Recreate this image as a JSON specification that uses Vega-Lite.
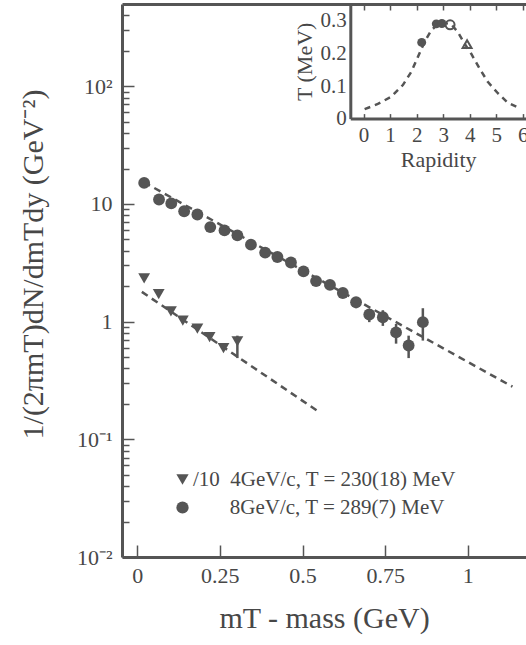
{
  "$schema": "https://vega.github.io/schema/vega-lite/v6.json",
  "autosize": {"type": "none"},
  "padding": {"left": 122, "top": 4, "right": 0, "bottom": 88},
  "width": 404,
  "height": 553,
  "background": "white",
  "config": {
    "view": {"stroke": null},
    "font": "Liberation Serif",
    "axis": {
      "labelFont": "Liberation Serif",
      "titleFont": "Liberation Serif",
      "labelColor": "#474747",
      "titleColor": "#474747",
      "domainColor": "#555555",
      "tickColor": "#555555",
      "grid": false,
      "titleFontWeight": "normal",
      "labelFlush": false,
      "labelOverlap": false
    }
  },
  "datasets": {
    "spectra": [
      {"series": "8GeV/c", "mt": 0.021, "val": 15.1},
      {"series": "8GeV/c", "mt": 0.066, "val": 10.9},
      {"series": "8GeV/c", "mt": 0.103, "val": 10.1},
      {"series": "8GeV/c", "mt": 0.142, "val": 8.67},
      {"series": "8GeV/c", "mt": 0.182, "val": 8.13},
      {"series": "8GeV/c", "mt": 0.221, "val": 6.36},
      {"series": "8GeV/c", "mt": 0.264, "val": 5.96},
      {"series": "8GeV/c", "mt": 0.303, "val": 5.41},
      {"series": "8GeV/c", "mt": 0.344, "val": 4.51},
      {"series": "8GeV/c", "mt": 0.387, "val": 3.86},
      {"series": "8GeV/c", "mt": 0.424, "val": 3.54},
      {"series": "8GeV/c", "mt": 0.465, "val": 3.18},
      {"series": "8GeV/c", "mt": 0.503, "val": 2.67},
      {"series": "8GeV/c", "mt": 0.541, "val": 2.21},
      {"series": "8GeV/c", "mt": 0.583, "val": 2.05},
      {"series": "8GeV/c", "mt": 0.622, "val": 1.75},
      {"series": "8GeV/c", "mt": 0.662, "val": 1.46},
      {"series": "8GeV/c", "mt": 0.702, "val": 1.15},
      {"series": "8GeV/c", "mt": 0.743, "val": 1.09},
      {"series": "8GeV/c", "mt": 0.783, "val": 0.81},
      {"series": "8GeV/c", "mt": 0.821, "val": 0.627},
      {"series": "8GeV/c", "mt": 0.864, "val": 0.99},
      {"series": "4GeV/c", "mt": 0.021, "val": 2.33},
      {"series": "4GeV/c", "mt": 0.065, "val": 1.71},
      {"series": "4GeV/c", "mt": 0.102, "val": 1.22},
      {"series": "4GeV/c", "mt": 0.138, "val": 1.02},
      {"series": "4GeV/c", "mt": 0.182, "val": 0.87},
      {"series": "4GeV/c", "mt": 0.219, "val": 0.74},
      {"series": "4GeV/c", "mt": 0.261, "val": 0.596},
      {"series": "4GeV/c", "mt": 0.303, "val": 0.68}
    ],
    "errs": [
      {"series": "8GeV/c", "mt": 0.622, "lo": 1.61, "hi": 1.89},
      {"series": "8GeV/c", "mt": 0.662, "lo": 1.30, "hi": 1.61},
      {"series": "8GeV/c", "mt": 0.702, "lo": 0.99, "hi": 1.28},
      {"series": "8GeV/c", "mt": 0.743, "lo": 0.92, "hi": 1.25},
      {"series": "8GeV/c", "mt": 0.783, "lo": 0.65, "hi": 0.955},
      {"series": "8GeV/c", "mt": 0.821, "lo": 0.49, "hi": 0.76},
      {"series": "8GeV/c", "mt": 0.864, "lo": 0.69, "hi": 1.30},
      {"series": "4GeV/c", "mt": 0.303, "lo": 0.49, "hi": 0.76}
    ],
    "fits": [
      {"series": "8GeV/c", "mt": 0.02, "val": 15.3},
      {"series": "8GeV/c", "mt": 1.135, "val": 0.28},
      {"series": "4GeV/c", "mt": 0.014, "val": 1.79},
      {"series": "4GeV/c", "mt": 0.547, "val": 0.173}
    ],
    "curve": [
      {"rap": 0.04, "T": 0.029},
      {"rap": 0.54, "T": 0.045},
      {"rap": 1.04, "T": 0.067},
      {"rap": 1.48, "T": 0.103},
      {"rap": 1.80, "T": 0.144},
      {"rap": 2.05, "T": 0.190},
      {"rap": 2.30, "T": 0.236},
      {"rap": 2.55, "T": 0.271},
      {"rap": 2.80, "T": 0.290},
      {"rap": 3.02, "T": 0.294},
      {"rap": 3.30, "T": 0.290},
      {"rap": 3.55, "T": 0.266},
      {"rap": 3.80, "T": 0.231},
      {"rap": 4.05, "T": 0.200},
      {"rap": 4.37, "T": 0.154},
      {"rap": 4.68, "T": 0.113},
      {"rap": 5.06, "T": 0.078},
      {"rap": 5.43, "T": 0.049},
      {"rap": 5.87, "T": 0.032}
    ],
    "tpoints": [
      {"kind": "filled", "rap": 2.19, "T": 0.234},
      {"kind": "filled", "rap": 2.74, "T": 0.291},
      {"kind": "filled", "rap": 2.95, "T": 0.292},
      {"kind": "opencircle", "rap": 3.26, "T": 0.288},
      {"kind": "opentriangle", "rap": 3.9, "T": 0.229}
    ]
  },
  "layer": [
    {
      "layer": [
        {
          "data": {"name": "fits"},
          "mark": {"type": "line", "strokeDash": [7, 5], "strokeWidth": 2.5, "color": "#555555"},
          "encoding": {
            "x": {
              "field": "mt", "type": "quantitative",
              "scale": {"domain": [-0.046, 1.176], "nice": false, "zero": false},
              "axis": {
                "orient": "bottom", "values": [0, 0.25, 0.5, 0.75, 1], "format": ".2~f",
                "labelFontSize": 22, "labelPadding": 20, "tickSize": -12, "tickWidth": 1.5,
                "domainWidth": 3, "title": "mT - mass (GeV)", "titleFontSize": 30, "titlePadding": 17
              }
            },
            "y": {
              "field": "val", "type": "quantitative",
              "scale": {"type": "log", "domain": [0.01, 500], "nice": false},
              "axis": {
                "orient": "left", "values": [0.01, 0.1, 1, 10, 100],
                "labelExpr": "datum.value > 50 ? '10²' : datum.value > 5 ? '10' : datum.value > 0.5 ? '1' : datum.value > 0.05 ? '10⁻¹' : '10⁻²'",
                "labelFontSize": 22, "labelPadding": 22, "tickSize": -12, "tickWidth": 1.5,
                "domainWidth": 3, "title": "1/(2πmT)dN/dmTdy (GeV⁻²)", "titleFontSize": 30, "titlePadding": 28,
                "titleY": 260
              }
            },
            "detail": {"field": "series"}
          }
        },
        {
          "data": {"name": "errs"},
          "mark": {"type": "rule", "strokeWidth": 2.5, "color": "#555555"},
          "encoding": {
            "x": {"field": "mt", "type": "quantitative", "axis": null},
            "y": {"field": "lo", "type": "quantitative", "axis": null},
            "y2": {"field": "hi"}
          }
        },
        {
          "data": {"name": "spectra"},
          "mark": {"type": "point", "filled": true, "size": 140, "color": "#555555", "opacity": 1},
          "encoding": {
            "x": {
              "field": "mt", "type": "quantitative",
              "axis": {"orient": "top", "labels": false, "ticks": false, "domain": true, "domainWidth": 3, "title": null}
            },
            "y": {
              "field": "val", "type": "quantitative",
              "axis": {
                "orient": "left", "labels": false, "domain": false, "title": null, "tickSize": -7, "tickWidth": 1.5,
                "values": [0.02, 0.03, 0.04, 0.05, 0.06, 0.07, 0.08, 0.09, 0.2, 0.3, 0.4, 0.5, 0.6, 0.7, 0.8, 0.9, 2, 3, 4, 5, 6, 7, 8, 9, 20, 30, 40, 50, 60, 70, 80, 90, 200, 300, 400]
              }
            },
            "shape": {
              "field": "series", "type": "nominal",
              "scale": {"domain": ["4GeV/c", "8GeV/c"], "range": ["triangle-down", "circle"]},
              "legend": {
                "orient": "none", "legendX": 50, "legendY": 465, "title": null, "padding": 0,
                "labelFont": "Liberation Serif", "labelFontSize": 21, "labelColor": "#474747", "labelLimit": 500,
                "symbolSize": 150, "symbolFillColor": "#555555", "symbolStrokeWidth": 0, "labelOffset": 0, "rowPadding": 6,
                "labelExpr": "datum.value == '4GeV/c' ? '/10\u00a0\u00a04GeV/c, T = 230(18) MeV' : '\u200b\u00a0\u00a0\u00a0\u00a0\u00a0\u00a0\u00a08GeV/c, T = 289(7) MeV'"
              }
            }
          }
        }
      ],
      "resolve": {"axis": {"x": "independent", "y": "independent"}}
    },
    {
      "layer": [
        {
          "data": {"name": "curve"},
          "mark": {"type": "line", "strokeDash": [6, 5], "strokeWidth": 2.5, "color": "#555555"},
          "encoding": {
            "x": {
              "field": "rap", "type": "quantitative",
              "scale": {"domain": [-0.5, 6.12], "range": [228.3, 404], "nice": false, "zero": false},
              "axis": {
                "orient": "bottom", "offset": -438.4, "values": [0, 1, 2, 3, 4, 5, 6],
                "labelFontSize": 21, "labelPadding": 11, "tickSize": -5, "tickWidth": 1.5, "domainWidth": 3,
                "title": "Rapidity", "titleFontSize": 22, "titlePadding": 4
              }
            },
            "y": {
              "field": "T", "type": "quantitative",
              "scale": {"domain": [0, 0.352], "range": [114.6, 0], "nice": false, "zero": false},
              "axis": {
                "orient": "left", "offset": -228.3, "values": [0, 0.1, 0.2, 0.3], "format": ".1~f",
                "labelFontSize": 21, "labelPadding": 4, "ticks": false, "domainWidth": 3,
                "title": "T (MeV)", "titleFontSize": 22, "titlePadding": 4
              }
            }
          }
        },
        {
          "data": {"name": "tpoints"},
          "transform": [{"filter": "datum.kind == 'filled'"}],
          "mark": {"type": "point", "filled": true, "shape": "circle", "size": 80, "color": "#555555", "opacity": 1},
          "encoding": {
            "x": {
              "field": "rap", "type": "quantitative",
              "axis": {"orient": "top", "values": [0, 1, 2, 3, 4, 5, 6], "labels": false, "domain": false, "tickSize": -6, "tickWidth": 1.5, "title": null}
            },
            "y": {"field": "T", "type": "quantitative", "axis": null}
          }
        },
        {
          "data": {"name": "tpoints"},
          "transform": [{"filter": "datum.kind == 'opencircle'"}],
          "mark": {"type": "point", "filled": false, "shape": "circle", "size": 80, "strokeWidth": 2, "color": "#555555", "opacity": 1},
          "encoding": {
            "x": {"field": "rap", "type": "quantitative", "axis": null},
            "y": {"field": "T", "type": "quantitative", "axis": null}
          }
        },
        {
          "data": {"name": "tpoints"},
          "transform": [{"filter": "datum.kind == 'opentriangle'"}],
          "mark": {"type": "point", "filled": false, "shape": "triangle-up", "size": 80, "strokeWidth": 2, "color": "#555555", "opacity": 1},
          "encoding": {
            "x": {"field": "rap", "type": "quantitative", "axis": null},
            "y": {"field": "T", "type": "quantitative", "axis": null}
          }
        }
      ],
      "resolve": {"axis": {"x": "independent", "y": "independent"}}
    }
  ],
  "resolve": {
    "scale": {"x": "independent", "y": "independent", "shape": "independent"},
    "axis": {"x": "independent", "y": "independent"}
  }
}
